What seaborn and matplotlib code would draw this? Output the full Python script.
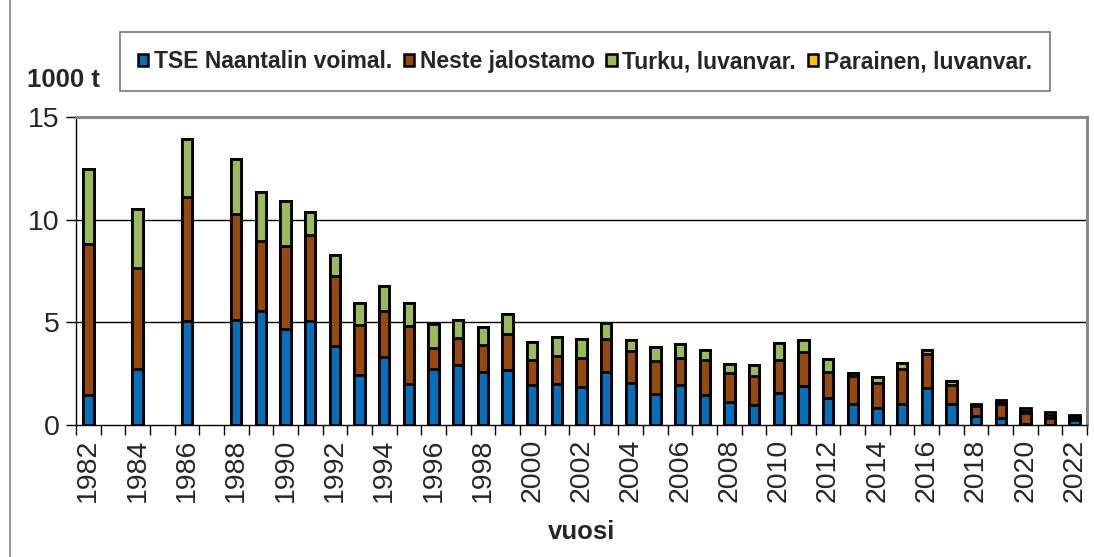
import numpy as np
import pandas as pd
import matplotlib
matplotlib.use("Agg")
import matplotlib.pyplot as plt
from matplotlib.patches import Patch, Rectangle
import seaborn as sns

nan = np.nan

years = list(range(1982, 2023))

# Sulphur dioxide emissions by source, 1000 t (no data for 1983, 1985, 1987)
tse_naantali = [1.46, nan, 2.75, nan, 5.05, nan, 5.13, 5.55, 4.69, 5.05,
                3.83, 2.43, 3.32, 1.99, 2.75, 2.91, 2.56, 2.70, 1.96, 2.02,
                1.86, 2.59, 2.05, 1.49, 1.94, 1.47, 1.13, 0.97, 1.54, 1.91,
                1.30, 1.00, 0.84, 1.00, 1.81, 1.00, 0.42, 0.32, 0.05, 0.02,
                0.22]
neste = [7.36, nan, 4.89, nan, 6.07, nan, 5.15, 3.40, 4.01, 4.21,
         3.45, 2.42, 2.21, 2.83, 1.02, 1.33, 1.32, 1.72, 1.20, 1.34,
         1.41, 1.59, 1.54, 1.63, 1.33, 1.69, 1.41, 1.41, 1.62, 1.65,
         1.29, 1.38, 1.21, 1.75, 1.65, 0.97, 0.52, 0.70, 0.55, 0.30,
         0.10]
turku = [3.64, nan, 2.88, nan, 2.80, nan, 2.67, 2.38, 2.19, 1.13,
         1.02, 1.09, 1.22, 1.12, 1.15, 0.86, 0.89, 1.00, 0.90, 0.91,
         0.92, 0.81, 0.54, 0.67, 0.66, 0.48, 0.41, 0.52, 0.84, 0.58,
         0.60, 0.16, 0.28, 0.29, 0.21, 0.17, 0.05, 0.08, 0.07, 0.15,
         0.06]
parainen = [0.0, nan, 0.0, nan, 0.0, nan, 0.0, 0.0, 0.0, 0.0,
            0.0, 0.0, 0.0, 0.0, 0.0, 0.0, 0.0, 0.0, 0.0, 0.0,
            0.0, 0.0, 0.0, 0.0, 0.0, 0.0, 0.0, 0.0, 0.0, 0.0,
            0.0, 0.0, 0.0, 0.0, 0.0, 0.0, 0.03, 0.14, 0.18, 0.14,
            0.12]

series_names = ["TSE Naantalin voimal.", "Neste jalostamo",
                "Turku, luvanvar.", "Parainen, luvanvar."]
series_values = [tse_naantali, neste, turku, parainen]
series_colors = ["#0070C0", "#984807", "#9BBB59", "#FFC000"]

year_labels = [str(y) for y in years]
tick_labels = [str(y) if y % 2 == 0 else "" for y in years]

df = pd.DataFrame({"vuosi": year_labels})
for name, vals in zip(series_names, series_values):
    df[name] = vals
# cumulative tops for stacking
cum = df[series_names].cumsum(axis=1)

sns.set_theme(style="white")
plt.rcParams["font.family"] = ["Liberation Sans", "DejaVu Sans"]

fig = plt.figure(figsize=(10.94, 5.57), dpi=100)
ax = fig.add_axes([76 / 1094, 1 - 425 / 557, (1087 - 76) / 1094, (425 - 117) / 557])

# gridlines behind bars
for yv in (5, 10):
    ax.axhline(yv, color="black", lw=1.0, zorder=0)

# draw from the top layer down so each lower segment covers the one above
for i in range(len(series_names) - 1, -1, -1):
    sns.barplot(data=cum.assign(vuosi=year_labels), x="vuosi", y=series_names[i],
                order=year_labels, color=series_colors[i], saturation=1,
                width=0.42, edgecolor="black", linewidth=2.0, ax=ax,
                errorbar=None, zorder=2)

ax.set_xlim(-0.5, len(years) - 0.5)
ax.set_ylim(0, 15)
ax.set_yticks([0, 5, 10, 15])
ax.set_yticklabels(["0", "5", "10", "15"], fontsize=20.5)
ax.set_xticks(range(len(years)))
ax.set_xticklabels(tick_labels, rotation=90, fontsize=20.5)
ax.set_xticks(np.arange(-0.5, len(years), 1.0), minor=True)
ax.tick_params(axis="x", which="major", length=0, pad=10)
ax.tick_params(axis="x", which="minor", length=7, width=1, color="black",
               direction="out", bottom=True)
ax.tick_params(axis="y", which="major", length=7, width=1, color="black",
               direction="out", left=True, pad=5)

ax.set_xlabel("vuosi", fontsize=18.5, fontweight="bold", labelpad=13)
ax.set_ylabel("")

for side in ("top", "right"):
    ax.spines[side].set_color("#888888")
    ax.spines[side].set_linewidth(2.2)
for side in ("left", "bottom"):
    ax.spines[side].set_color("black")
    ax.spines[side].set_linewidth(1.0)

fig.text(27 / 1094, 1 - 80 / 557, "1000 t", fontsize=18.5, fontweight="bold",
         ha="left", va="center")

handles = [Patch(facecolor=c, edgecolor="black", linewidth=1.8) for c in series_colors]
leg = fig.legend(handles, series_names, loc="center",
                 bbox_to_anchor=(585 / 1094, 1 - 61.5 / 557), ncol=4,
                 frameon=True, fancybox=False, shadow=False,
                 prop={"size": 16.5, "weight": "bold"},
                 handlelength=0.45, handleheight=0.45, handletextpad=0.25,
                 columnspacing=0.5, borderpad=0.8, borderaxespad=0)
leg.get_frame().set_edgecolor("#555555")
leg.get_frame().set_linewidth(1.2)

# outer chart frame
fig.add_artist(Rectangle((10 / 1094, -0.2), 1.2, 1.2 + (1 - 10 / 557),
                         transform=fig.transFigure, fill=False,
                         edgecolor="#888888", linewidth=1.2))

fig.savefig("out.png", dpi=100)
